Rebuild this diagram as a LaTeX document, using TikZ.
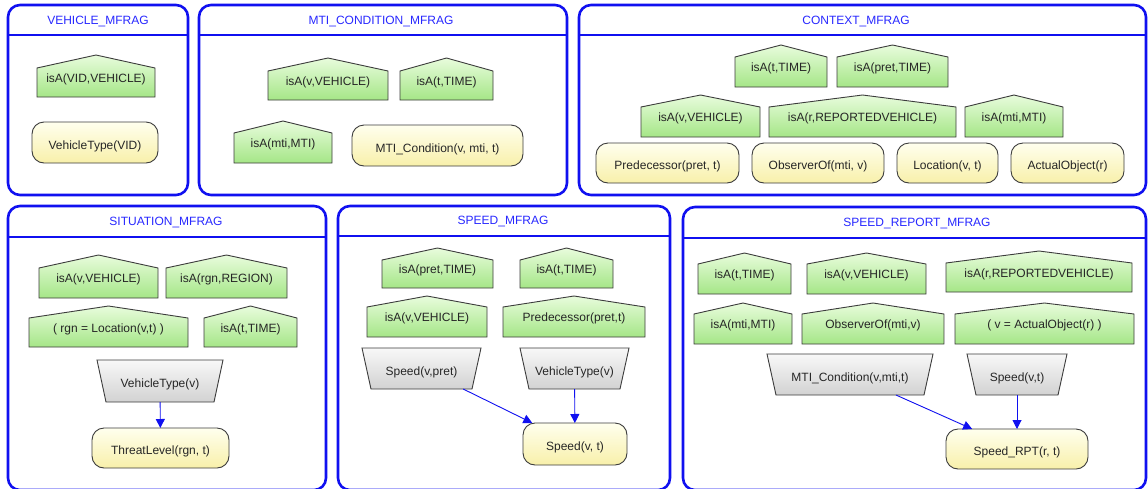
\documentclass[tikz,border=0pt]{standalone}
\usepackage{fontspec}
\setmainfont{Liberation Sans}
\usetikzlibrary{arrows.meta}
\definecolor{frameblue}{RGB}{16,16,240}
\definecolor{titleblue}{RGB}{40,40,255}
\definecolor{gtop}{RGB}{232,252,220}
\definecolor{gbot}{RGB}{165,230,135}
\definecolor{ytop}{RGB}{255,255,238}
\definecolor{ybot}{RGB}{248,240,170}
\definecolor{ttop}{RGB}{248,248,248}
\definecolor{tbot}{RGB}{210,210,210}
\definecolor{edgegray}{RGB}{60,60,60}
\tikzset{
 frame/.style={draw=frameblue, line width=2.6pt, rounded corners=12pt},
 sepline/.style={draw=frameblue, line width=2.6pt},
 title/.style={text=titleblue, font=\fontsize{12}{14}\selectfont, inner sep=0pt},
 lbl/.style={font=\fontsize{12}{14}\selectfont, text=black!85, inner sep=0pt, outer sep=0pt},
 ctxbox/.style={lbl, text height=9pt, text depth=10pt},
 ctxshade/.style={draw=edgegray, line width=0.9pt, top color=gtop, bottom color=gbot},
 res/.style={lbl, draw=edgegray, line width=0.9pt, rounded corners=12pt, top color=ytop, bottom color=ybot, text height=15pt, text depth=2pt},
 inp/.style={lbl, text height=15pt, text depth=2pt},
 inpshade/.style={draw=edgegray, line width=0.9pt, top color=ttop, bottom color=tbot},
 link/.style={draw=frameblue, line width=0.9pt, -{Triangle[width=9pt,length=9pt]}},
}
% name x1 x2 ypeak ycorner ybottom text
\newcommand\ctxnode[7]{%
 \pgfmathsetmacro\cbW{#3-#2}\pgfmathsetmacro\cbH{#6-#5}%
 \pgfmathsetmacro\cbX{(#2+#3)/2}\pgfmathsetmacro\cbY{(#5+#6)/2}%
 \shade[ctxshade] (#2,#6) -- (#2,#5) -- (\cbX,#4) -- (#3,#5) -- (#3,#6) -- cycle;
 \node[ctxbox, minimum width=\cbW pt, minimum height=\cbH pt] (#1) at (\cbX,\cbY) {#7};}
% name x1 x2 y1 y2 text
\newcommand\resnode[6]{%
 \pgfmathsetmacro\cbW{#3-#2}\pgfmathsetmacro\cbH{#5-#4}%
 \pgfmathsetmacro\cbX{(#2+#3)/2}\pgfmathsetmacro\cbY{(#4+#5)/2}%
 \node[res, minimum width=\cbW pt, minimum height=\cbH pt] (#1) at (\cbX,\cbY) {#6};}
\newcommand\inpnode[6]{%
 \pgfmathsetmacro\cbW{#3-#2}\pgfmathsetmacro\cbH{#5-#4}%
 \pgfmathsetmacro\cbX{(#2+#3)/2}\pgfmathsetmacro\cbY{(#4+#5)/2}%
 \shade[inpshade] (#2,#4) -- (#3,#4) -- (#3-9,#5) -- (#2+9,#5) -- cycle;
 \node[inp, minimum width=\cbW pt, minimum height=\cbH pt] (#1) at (\cbX,\cbY) {#6};}
\begin{document}
\begin{tikzpicture}[x=1pt,y=-1pt]
\useasboundingbox (0,0) rectangle (1148,488);
\clip (0,0) rectangle (1148,488);
\fill[white] (0,0) rectangle (1148,488);
% frames
\draw[frame] (8,5) rectangle (188,195);
\draw[sepline] (8,35) -- (188,35);
\node[title] (t1) at (98,21) {VEHICLE\_MFRAG};
\draw[frame] (199,5) rectangle (567,195);
\draw[sepline] (199,35) -- (567,35);
\node[title] (t2) at (381,21) {MTI\_CONDITION\_MFRAG};
\draw[frame] (579,5) rectangle (1146,195);
\draw[sepline] (579,35) -- (1146,35);
\node[title] (t3) at (856,21) {CONTEXT\_MFRAG};
\draw[frame] (8,206) rectangle (326,490);
\draw[sepline] (8,237) -- (326,237);
\node[title] (t4) at (166,222) {SITUATION\_MFRAG};
\draw[frame] (338,206) rectangle (670,490);
\draw[sepline] (338,236) -- (670,236);
\node[title] (t5) at (503,221) {SPEED\_MFRAG};
\draw[frame] (683,207) rectangle (1146,490);
\draw[sepline] (683,238) -- (1146,238);
\node[title] (t6) at (917,223) {SPEED\_REPORT\_MFRAG};
% VEHICLE_MFRAG
\ctxnode{vid}{37}{155}{55}{68}{97}{isA(VID,VEHICLE)}
\resnode{vtvid}{32}{158}{122}{163}{VehicleType(VID)}
% MTI_CONDITION_MFRAG
\ctxnode{ctwov}{268}{388}{58}{71}{100}{isA(v,VEHICLE)}
\ctxnode{ctwot}{400}{493}{58}{71}{100}{isA(t,TIME)}
\ctxnode{ctwomti}{234}{332}{121}{133}{163}{isA(mti,MTI)}
\resnode{mticond}{352}{523}{125}{166}{MTI\_Condition(v, mti, t)}
% CONTEXT_MFRAG
\ctxnode{cthrt}{735}{827}{45}{57}{87}{isA(t,TIME)}
\ctxnode{cthrpret}{837}{948}{45}{57}{87}{isA(pret,TIME)}
\ctxnode{cthrv}{641}{760}{95}{107}{137}{isA(v,VEHICLE)}
\ctxnode{cthrr}{769}{956}{95}{107}{137}{isA(r,REPORTEDVEHICLE)}
\ctxnode{cthrmti}{965}{1063}{95}{107}{137}{isA(mti,MTI)}
\resnode{pred}{596}{739}{143}{183}{Predecessor(pret, t)}
\resnode{obs}{752}{884}{143}{183}{ObserverOf(mti, v)}
\resnode{loc}{897}{998}{143}{183}{Location(v, t)}
\resnode{act}{1011}{1124}{143}{183}{ActualObject(r)}
% SITUATION_MFRAG
\ctxnode{sfourv}{39}{158}{255}{268}{298}{isA(v,VEHICLE)}
\ctxnode{sfourrgn}{166}{287}{255}{268}{298}{isA(rgn,REGION)}
\ctxnode{sfourloc}{29}{188}{306}{318}{347}{( rgn = Location(v,t) )}
\ctxnode{sfourt}{204}{297}{306}{318}{347}{isA(t,TIME)}
\inpnode{sfourvt}{97}{223}{360}{402}{VehicleType(v)}
\resnode{threat}{92}{229}{428}{468}{ThreatLevel(rgn, t)}
\draw[link] (sfourvt) -- (threat);
% SPEED_MFRAG
\ctxnode{sfivepret}{382}{493}{248}{260}{288}{isA(pret,TIME)}
\ctxnode{sfivet}{520}{613}{248}{260}{288}{isA(t,TIME)}
\ctxnode{sfivev}{367}{487}{296}{307}{337}{isA(v,VEHICLE)}
\ctxnode{sfivepred}{503}{645}{296}{307}{337}{Predecessor(pret,t)}
\inpnode{sfivespd}{362}{481}{348}{389}{Speed(v,pret)}
\inpnode{sfivevt}{520}{629}{348}{389}{VehicleType(v)}
\resnode{sfivespeed}{523}{627}{423}{465}{Speed(v, t)}
\draw[link] (sfivespd) -- (sfivespeed);
\draw[link] (sfivevt) -- (sfivespeed);
% SPEED_REPORT_MFRAG
\ctxnode{ssixt}{698}{791}{253}{264}{294}{isA(t,TIME)}
\ctxnode{ssixv}{807}{926}{253}{264}{294}{isA(v,VEHICLE)}
\ctxnode{ssixr}{946}{1132}{251}{263}{292}{isA(r,REPORTEDVEHICLE)}
\ctxnode{ssixmti}{694}{792}{303}{314}{344}{isA(mti,MTI)}
\ctxnode{ssixobs}{802}{944}{303}{314}{344}{ObserverOf(mti,v)}
\ctxnode{ssixact}{955}{1134}{303}{314}{344}{( v = ActualObject(r) )}
\inpnode{ssixmtic}{767}{933}{354}{395}{MTI\_Condition(v,mti,t)}
\inpnode{ssixspd}{967}{1067}{354}{395}{Speed(v,t)}
\resnode{ssixrpt}{946}{1088}{429}{469}{Speed\_RPT(r, t)}
\draw[link] (ssixmtic) -- (ssixrpt);
\draw[link] (ssixspd) -- (ssixrpt);
\end{tikzpicture}
\end{document}
